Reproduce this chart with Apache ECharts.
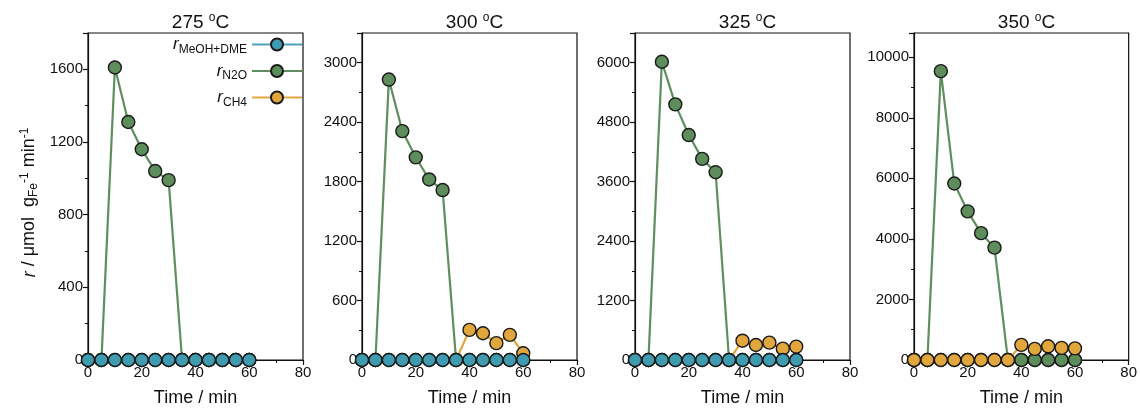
<!DOCTYPE html>
<html><head><meta charset="utf-8">
<script src="https://cdn.jsdelivr.net/npm/echarts@6/dist/echarts.min.js"></script>
<style>html,body{margin:0;padding:0;background:#fff}#c{width:1140px;height:416px}</style>
</head><body><div id="c"></div>
<script>
// ---- data ----
const times = [0, 5, 10, 15, 20, 25, 30, 35, 40, 45, 50, 55, 60];
const panelTemps = ['275', '300', '325', '350'];
const yMax = [1800, 3300, 6600, 10800];
const yInterval = [400, 600, 1200, 2000];
const xTicks = [0, 20, 40, 60, 80];

const meoh275 = [0, 0, 0, 0, 0, 0, 0, 0, 0, 0, 0, 0, 0];
const n2o275  = [0, 0, 1610, 1310, 1160, 1040, 990, 0, 0, 0, 0, 0, 0];
const ch4275  = [0, 0, 0, 0, 0, 0, 0, 0, 0, 0, 0, 0, 0];

const meoh300 = [0, 0, 0, 0, 0, 0, 0, 0, 0, 0, 0, 0, 0];
const n2o300  = [0, 0, 2830, 2310, 2045, 1822, 1715, 0, 0, 0, 0, 0, 0];
const ch4300  = [0, 0, 0, 0, 0, 0, 0, 0, 304, 270, 170, 254, 68];

const meoh325 = [0, 0, 0, 0, 0, 0, 0, 0, 0, 0, 0, 0, 0];
const n2o325  = [0, 0, 6020, 5160, 4540, 4060, 3790, 0, 0, 0, 0, 0, 0];
const ch4325  = [0, 0, 0, 0, 0, 0, 0, 0, 390, 303, 350, 229, 270];

const meoh350 = [0, 0, 0, 0, 0, 0, 0, 0, 0, 0, 0, 0, 0];
const n2o350  = [0, 0, 9540, 5830, 4910, 4190, 3710, 0, 0, 0, 0, 0, 0];
const ch4350  = [0, 0, 0, 0, 0, 0, 0, 0, 500, 366, 452, 400, 385];

const meohSets = [meoh275, meoh300, meoh325, meoh350];
const n2oSets = [n2o275, n2o300, n2o325, n2o350];
const ch4Sets = [ch4275, ch4300, ch4325, ch4350];

// ---- styles ----
const FONT = '"Liberation Sans", Arial, sans-serif';
const C_BLUE = '#3f9bb0', C_GREEN = '#5c8d5b', C_YEL = '#e2a73c';
const L_BLUE = '#4aa3b8', L_GREEN = '#5f8f5e', L_YEL = '#dfa73e';
const gridLefts = [88, 362, 635, 914];
const gridW = 215, gridTop = 33, gridH = 327;

const chart = echarts.init(document.getElementById('c'), null, {renderer: 'canvas'});

const grids = [], xAxes = [], yAxes = [], titles = [], series = [];
for (let i = 0; i < 4; i++) {
  grids.push({left: gridLefts[i], top: gridTop, width: gridW, height: gridH,
    show: true, borderColor: '#111', borderWidth: 1.2, backgroundColor: 'transparent'});
  titles.push({
    text: '{n|' + panelTemps[i] + ' }{s|o}{n|C}',
    left: gridLefts[i] + gridW / 2, top: 7, textAlign: 'center',
    textStyle: {fontWeight: 'normal', rich: {
      n: {fontFamily: FONT, fontSize: 19, fontWeight: 'normal', color: '#111'},
      s: {fontFamily: FONT, fontSize: 12, fontWeight: 'normal', color: '#111', padding: [0, 0, 9, 0]}
    }}
  });
  xAxes.push({
    gridIndex: i, type: 'value', min: 0, max: 80, interval: 20,
    name: 'Time / min', nameLocation: 'middle', nameGap: 29,
    nameTextStyle: {fontFamily: FONT, fontSize: 18, color: '#111'},
    axisLine: {show: true, onZero: false, lineStyle: {color: '#111', width: 1.2}},
    axisTick: {show: true, inside: false, length: 5, lineStyle: {color: '#111', width: 1.2}},
    minorTick: {show: true, splitNumber: 2, length: 3, lineStyle: {color: '#111', width: 1}},
    axisLabel: {fontFamily: FONT, fontSize: 15, color: '#111', margin: 5, formatter: v => String(v)},
    splitLine: {show: false}
  });
  const ya = {
    gridIndex: i, type: 'value', min: 0, max: yMax[i], interval: yInterval[i],
    axisLine: {show: true, lineStyle: {color: '#111', width: 1.2}},
    axisTick: {show: true, inside: false, length: 5, lineStyle: {color: '#111', width: 1.2}},
    minorTick: {show: true, splitNumber: 2, length: 3, lineStyle: {color: '#111', width: 1}},
    axisLabel: {fontFamily: FONT, fontSize: 15, color: '#111', margin: 5, showMaxLabel: false,
      formatter: v => String(v)},
    splitLine: {show: false}
  };
  if (i === 0) {
    ya.name = '{i|r}{n| / μmol  g}{b|Fe}{p|-1}{n| min}{p|-1}';
    ya.nameLocation = 'middle';
    ya.nameGap = 48;
    ya.nameRotate = 90;
    ya.nameTextStyle = {padding: [0, 12, 0, 0], rich: {
      i: {fontFamily: FONT, fontSize: 18, fontStyle: 'italic', color: '#111'},
      n: {fontFamily: FONT, fontSize: 18, color: '#111'},
      b: {fontFamily: FONT, fontSize: 12, color: '#111', padding: [9, 0, 0, 0]},
      p: {fontFamily: FONT, fontSize: 12, color: '#111', padding: [0, 0, 9, 0]}
    }};
  }
  yAxes.push(ya);

  const zs = i === 3 ? [2, 3, 4] : [4, 2, 3]; // meoh, n2o, ch4
  const mk = (name, vals, fill, line, z) => ({
    name, type: 'line', xAxisIndex: i, yAxisIndex: i, z,
    data: times.map((t, k) => [t, vals[k]]),
    symbol: 'circle', symbolSize: 13, showSymbol: true,
    lineStyle: {color: line, width: 2.2},
    itemStyle: {color: fill, borderColor: '#1a1a1a', borderWidth: 1.4},
    emphasis: {disabled: true}, animation: false
  });
  series.push(mk('MeOH+DME', meohSets[i], C_BLUE, L_BLUE, zs[0]));
  series.push(mk('N2O', n2oSets[i], C_GREEN, L_GREEN, zs[1]));
  series.push(mk('CH4', ch4Sets[i], C_YEL, L_YEL, zs[2]));
}

const subs = {'MeOH+DME': 'MeOH+DME', 'N2O': 'N2O', 'CH4': 'CH4'};
chart.setOption({
  backgroundColor: '#fff',
  animation: false,
  title: titles,
  grid: grids, xAxis: xAxes, yAxis: yAxes, series,
  legend: {
    data: ['MeOH+DME', 'N2O', 'CH4'],
    orient: 'vertical', right: 1140 - 303, top: 36, align: 'right',
    padding: 0, itemGap: 7, itemWidth: 50, itemHeight: 15,
    selectedMode: false,
    formatter: n => '{i|r}{s|' + subs[n] + '}',
    textStyle: {rich: {
      i: {fontFamily: FONT, fontSize: 17, fontStyle: 'italic', color: '#111'},
      s: {fontFamily: FONT, fontSize: 12, color: '#111', padding: [10, 0, 0, 0]}
    }}
  }
});
</script></body></html>
